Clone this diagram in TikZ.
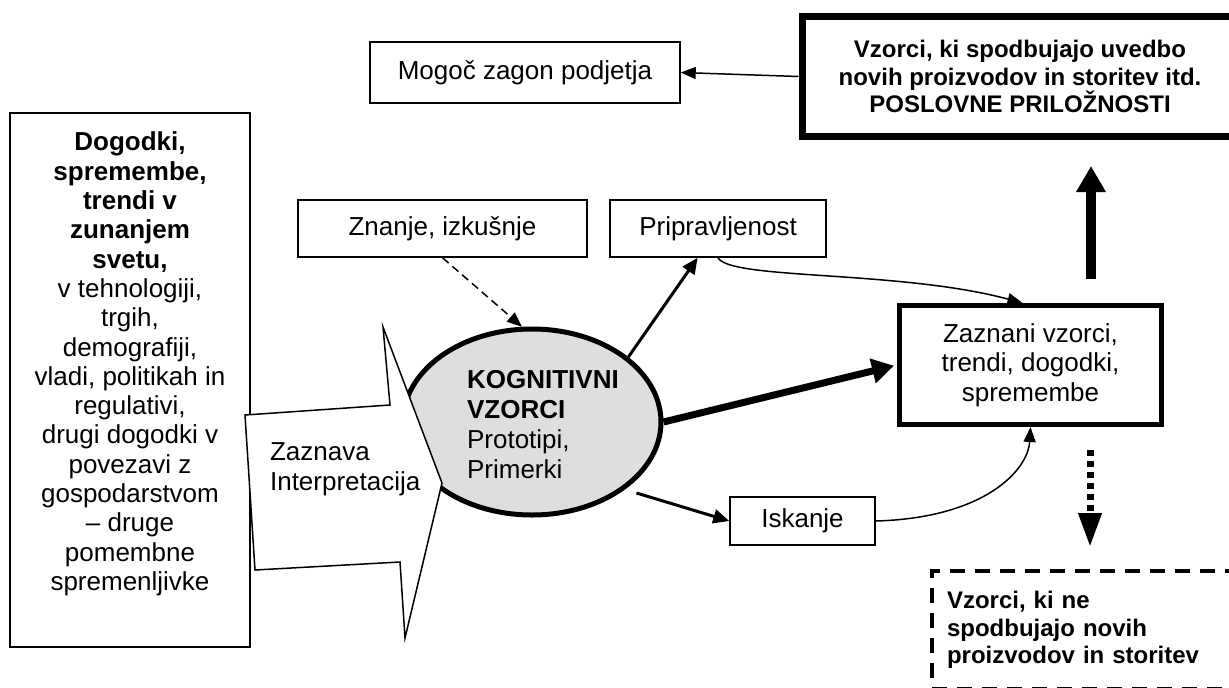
\documentclass[tikz,border=0pt]{standalone}
\usepackage{fontspec}
\setmainfont{Liberation Sans}
\usetikzlibrary{arrows.meta,shapes.geometric}

\begin{document}
\begin{tikzpicture}[x = 1pt, y = -1pt, line width = 1.5pt,
        font = \fontsize{26}{29.5}\selectfont,
        box/.style = {draw, inner sep = 0pt},
        thin tip/.style = {-{Triangle[length = 15pt, width = 12pt]}},
        mid tip/.style = {line width = 3pt, -{Triangle[length = 16pt, width = 14pt]}},
        hint/.style = {dash pattern = on 8pt off 5pt, thin tip},
        boldtext/.style = {font = \fontsize{24}{27.5}\selectfont\bfseries}]
    \useasboundingbox (0,0) rectangle (1229,688);
    \clip (0,0) rectangle (1229,688);

    \node [box, minimum width = 240pt, minimum height = 534pt] (events) at (130,380) {};
    \node [anchor = north, align = center, font = \fontsize{26}{29.3}\selectfont] (eventstext) at (130,128) {%
        \textbf{Dogodki,}\\ \textbf{spremembe,}\\ \textbf{trendi v}\\ \textbf{zunanjem}\\ \textbf{svetu,}\\
        v tehnologiji,\\ trgih,\\ demografiji,\\ vladi, politikah in\\ regulativi,\\ drugi dogodki v\\
        povezavi z\\ gospodarstvom\\ – druge\\ pomembne\\ spremenljivke};

    \node [box, minimum width = 310pt, minimum height = 61pt] (launch) at (525,72.5) {Mogoč zagon podjetja};
    \node [box, line width = 7pt, minimum width = 436pt, minimum height = 120pt, align = center, boldtext] (prospects) at (1020,76.5)
        {Vzorci, ki spodbujajo uvedbo\\novih proizvodov in storitev itd.\\POSLOVNE PRILOŽNOSTI};
    \node [box, minimum width = 289pt, minimum height = 57pt] (knowledge) at (442.5,228.5) {Znanje, izkušnje};
    \node [box, minimum width = 216pt, minimum height = 57pt] (ready) at (718,228.5) {Pripravljenost};
    \node [box, line width = 5pt, minimum width = 262pt, minimum height = 119pt, align = center] (perceived) at (1030.5,365)
        {Zaznani vzorci,\\trendi, dogodki,\\spremembe};
    \node [box, minimum width = 145pt, minimum height = 48pt] (search) at (802.5,521) {Iskanje};
    \node [box, line width = 4pt, dash pattern = on 15pt off 10pt, anchor = north west, text width = 290pt,
        inner xsep = 15pt, minimum height = 118pt, align = left, boldtext] (other) at (930,569)
        {Vzorci, ki ne\\spodbujajo novih\\proizvodov in storitev};

    \node [ellipse, draw, line width = 5pt, fill = black!13, minimum width = 258pt, minimum height = 186pt, inner sep = 0pt] (patterns) at (532,422) {};

    \draw [hint] (knowledge.south) -- (patterns.96);
    \draw [mid tip] (patterns.34) -- (ready);
    \draw [mid tip, shorten < = 12pt] (patterns.-36) -- (search.west);
    \draw [line width = 7pt, -{Triangle[length = 22pt, width = 24pt]}, shorten > = 3pt] (patterns.east) -- (perceived.west);
    \draw [thin tip] (ready.south) .. controls (730,280) and (900,270) .. ([xshift = -8pt]perceived.north);
    \draw [thin tip] (search.east) .. controls (985,518) and (1028,470) .. (perceived.south);
    \draw [thin tip] (prospects.west) -- (launch.east);

    \coordinate (upfoot) at ([xshift = 60.5pt]perceived.north);
    \draw [line width = 10pt, -{Triangle[length = 26pt, width = 28pt]}, shorten < = 24pt, shorten > = 26pt] (upfoot) -- (upfoot |- prospects.south);
    \coordinate (downfoot) at ([xshift = 59.5pt]perceived.south);
    \draw [line width = 7pt, dash pattern = on 6pt off 5pt, -{Triangle[length = 34pt, width = 22pt]}, shorten < = 23pt, shorten > = 22pt] (downfoot) -- (downfoot |- other.north);

    \draw [fill = white] (245,415) -- (390,405) -- (383,327) -- (442,483) -- (405,638) -- (400,562) -- (255,570) -- cycle;
    \begin{scope}[align = left]
        \node [anchor = west] (perceive) at (266,469) {Zaznava\\Interpretacija};
        \node [anchor = west, font = \fontsize{26}{30}\selectfont] (patternstext) at (463,425)
            {\textbf{KOGNITIVNI}\\\textbf{VZORCI}\\Prototipi,\\Primerki};
    \end{scope}
\end{tikzpicture}
\end{document}
